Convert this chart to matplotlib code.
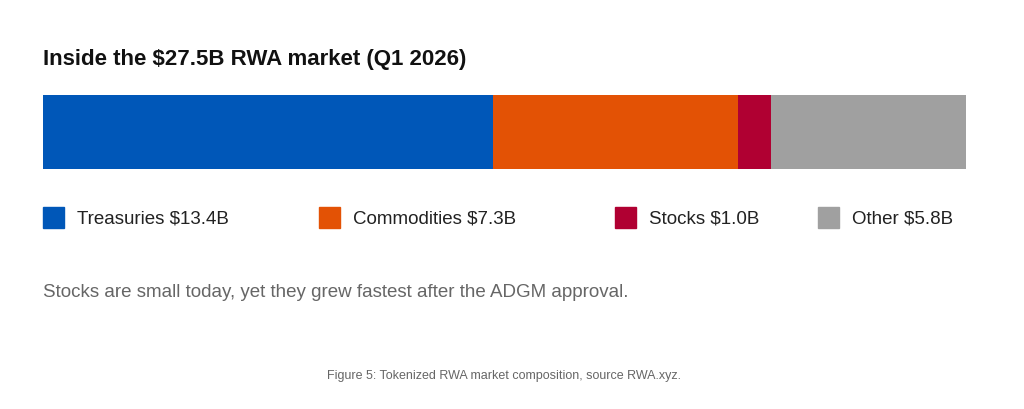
import matplotlib
matplotlib.use("Agg")
import matplotlib.pyplot as plt

categories = ["Treasuries", "Commodities", "Stocks", "Other"]
values = [13.4, 7.3, 1.0, 5.8]
labels = ["Treasuries $13.4B", "Commodities $7.3B", "Stocks $1.0B", "Other $5.8B"]
colors = ["#0057B8", "#E35205", "#B00032", "#A0A0A0"]

plt.rcParams['font.family'] = ['Liberation Sans', 'DejaVu Sans']
fig = plt.figure(figsize=(10.24, 4.10), dpi=100)
ax = fig.add_axes([43/1024, 1-170/410, 923/1024, 74/410])
left = 0
for v, c in zip(values, colors):
    ax.barh(0, v, left=left, height=1, color=c)
    left += v
ax.set_xlim(0, sum(values))
ax.set_ylim(-0.5, 0.5)
ax.axis('off')

fig.text(43/1024, 1-60/410, "Inside the $27.5B RWA market (Q1 2026)", fontsize=16,
         fontweight='bold', va='center', ha='left', color='#111111')

leg_x = [43, 319, 615, 818]
for x, lab, c in zip(leg_x, labels, colors):
    fig.patches.append(plt.Rectangle((x/1024, 1-229/410), 21/1024, 21/410,
                                     transform=fig.transFigure, color=c))
    fig.text((x+34)/1024, 1-219/410, lab, fontsize=13.5, va='center', ha='left', color='#222222')

fig.text(43/1024, 1-293/410,
         "Stocks are small today, yet they grew fastest after the ADGM approval.",
         fontsize=13.5, va='center', ha='left', color='#666666')
fig.text(504/1024, 1-376/410,
         "Figure 5: Tokenized RWA market composition, source RWA.xyz.",
         fontsize=9, va='center', ha='center', color='#666666')

fig.savefig("out.png", dpi=100, facecolor='white')
